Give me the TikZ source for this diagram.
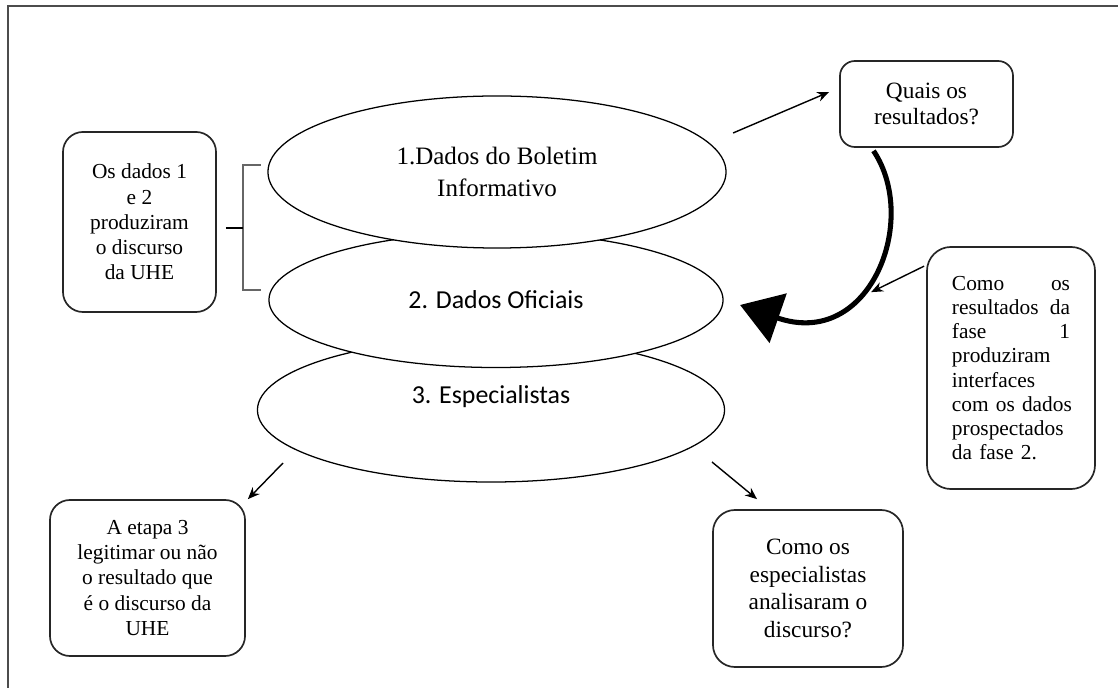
\documentclass[tikz,border=0pt]{standalone}
\usepackage{fontspec}
\setmainfont{Liberation Serif}
\newfontfamily\calibfont{Carlito}
\usepackage{tikz}
\usetikzlibrary{positioning, shapes, shapes.geometric, arrows, arrows.meta, calc}
\tikzset{
  disc/.style={
    ellipse, draw=black, fill=white, line width=0.9pt,
    inner sep=0pt, outer sep=0pt, align=center
  },
  note/.style={
    draw=black!85, fill=white, rounded corners=0.5cm, line width=1.2pt,
    inner sep=0pt, align=center,
    font=\fontsize{15.2}{17.9}\selectfont
  },
  arrow/.style={-{Stealth[length=8.5pt, width=7pt]}, line width=1pt},
  bigarrow/.style={-{Triangle[length=28.7pt, width=36.6pt]}, line width=3.6pt},
  frameline/.style={draw=black!70, line width=1.3pt}
}

\begin{document}
\begin{tikzpicture}[x=0.025cm, y=-0.025cm]
\useasboundingbox (0,0) rectangle (1118,688);

%% Outer frame (cut at right and bottom)
\draw[frameline] (8,688) -- (8,6) -- (1118,6);

%% Stacked ellipses
\node[disc, minimum width=11.675cm, minimum height=3.6cm] (e3) at (491,410) {};
\node[font=\calibfont\fontsize{18.4}{22}\selectfont] (t3) at (491,397) {3. Especialistas};
\node[disc, minimum width=11.35cm, minimum height=3.375cm,
      font=\calibfont\fontsize{18.4}{22}\selectfont] (e2) at (496,300) {2. Dados Oficiais};
\node[disc, minimum width=11.45cm, minimum height=3.8cm,
      font=\fontsize{17.8}{22.7}\selectfont] (e1) at (497,172)
      {1.Dados do Boletim\\Informativo};

%% Notes
\node[note, minimum width=3.825cm, minimum height=4.5cm] (qa) at (139.5,222)
  {Os dados 1\\e 2\\produziram\\o discurso\\da UHE};
\node[note, rounded corners=0.375cm, minimum width=4.325cm, minimum height=2.15cm,
      font=\fontsize{16.6}{18.6}\selectfont] (qb) at (926.5,104)
  {Quais os\\resultados?};
\node[note, rounded corners=0.6cm, minimum width=4.2cm, minimum height=6.05cm,
      text width=2.95cm, align=left, font=\fontsize{15.2}{17.2}\selectfont] (qc) at (1011,368)
  {Como\hfill os\\resultados\hfill da\\fase\hfill 1\\produziram\\interfaces\\\mbox{com os dados}\\prospectados\\da fase 2.};
\node[note, minimum width=4.875cm, minimum height=3.9cm] (qd) at (147.5,578)
  {A etapa 3\\legitimar ou não\\o resultado que\\é o discurso da\\UHE};
\node[note, rounded corners=0.55cm, minimum width=4.75cm, minimum height=3.925cm,
      font=\fontsize{16.6}{19.8}\selectfont] (qe) at (808,588.5)
  {Como os\\especialistas\\analisaram o\\discurso?};

%% Bracket joining 1 and 2
\coordinate (br) at ($(qa.east)+(26,6)$);
\draw[black!60, line width=1.1pt] ($(br)+(18,-63)$) -- ($(br)+(0,-63)$)
  -- ($(br)+(0,62)$) -- ($(br)+(18,62)$);
\draw[line width=1.6pt] ($(br)+(-17,0)$) -- (br);

%% Arrows
\draw[arrow] ($(e1.east)+(7,-39)$) -- ($(qb.west)+(-10,-12)$);
\draw[bigarrow] ($(qb.south)+(-53,3)$) .. controls (920,220) and (870,350) .. ($(e2.east)+(17,5)$);
\draw[arrow] ($(qc.north west)+(-2,20)$) -- ($(qc.north west)+(-55,46)$);
\draw[arrow] ($(e3.center)+(-208,53)$) -- ($(qd.north east)+(2,0)$);
\draw[arrow] ($(e3.center)+(221,52)$) -- ($(qe.north)+(-51,-10)$);
\end{tikzpicture}
\end{document}
